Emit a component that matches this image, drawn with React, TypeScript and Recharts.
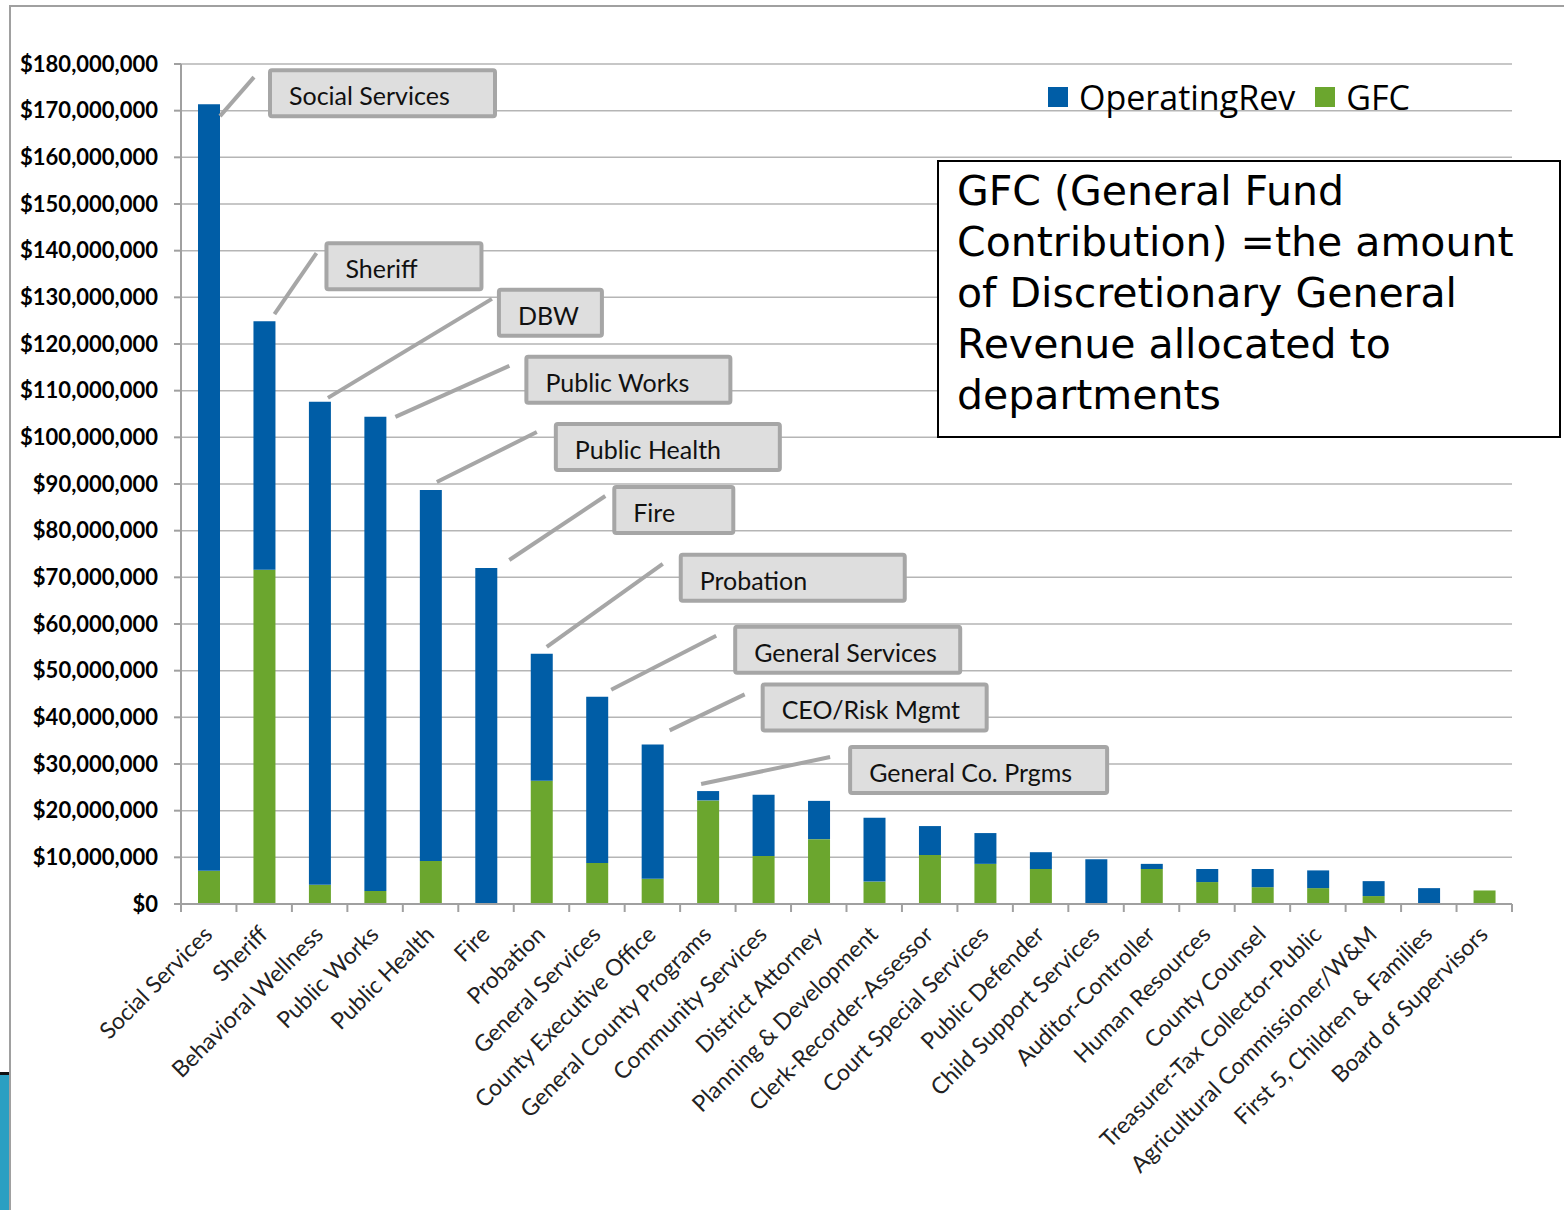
import { Bar, BarChart, CartesianGrid, LabelList, Legend, XAxis, YAxis } from "recharts";

const BLUE = "#005da6";
const GREEN = "#6ba62e";
const GRID = "#b5b5b5";
const AXIS = "#a0a0a0";
const CALLOUT_EDGE = "#a6a6a6";
const CALLOUT_FILL = "#dedede";
const FONT = "Lato, 'Open Sans', sans-serif";
const LEGEND_FONT = "'Open Sans', Lato, sans-serif";
const NOTE_FONT = "'DejaVu Sans', 'Open Sans', sans-serif";

// values in $ millions
const DEPARTMENTS = [
  "Social Services",
  "Sheriff",
  "Behavioral Wellness",
  "Public Works",
  "Public Health",
  "Fire",
  "Probation",
  "General Services",
  "County Executive Office",
  "General County Programs",
  "Community Services",
  "District Attorney",
  "Planning & Development",
  "Clerk-Recorder-Assessor",
  "Court Special Services",
  "Public Defender",
  "Child Support Services",
  "Auditor-Controller",
  "Human Resources",
  "County Counsel",
  "Treasurer-Tax Collector-Public",
  "Agricultural Commissioner/W&M",
  "First 5, Children & Families",
  "Board of Supervisors",
];
const GFC = [7.1, 71.6, 4.1, 2.8, 9.2, 0, 26.4, 8.8, 5.4, 22.2, 10.3, 13.9, 4.8, 10.5, 8.6, 7.5, 0, 7.5, 4.7, 3.6, 3.4, 1.7, 0, 2.9];
const OPERATING_REV = [164.3, 53.3, 103.5, 101.6, 79.5, 72.0, 27.2, 35.6, 28.8, 2.0, 13.1, 8.2, 13.7, 6.2, 6.6, 3.6, 9.6, 1.1, 2.8, 3.9, 3.8, 3.2, 3.4, 0];
const Y_TICKS = [0, 10, 20, 30, 40, 50, 60, 70, 80, 90, 100, 110, 120, 130, 140, 150, 160, 170, 180];
const CALLOUTS = [
  "Social Services",
  "Sheriff",
  "DBW",
  "Public Works",
  "Public Health",
  "Fire",
  "Probation",
  "General Services",
  "CEO/Risk Mgmt",
  "General Co. Prgms",
];
const NOTE_LINES = [
  "GFC (General Fund",
  "Contribution) =the amount",
  "of Discretionary General",
  "Revenue allocated to",
  "departments",
];

// leader line + box offsets, relative to the top-right corner of each bar
const CALLOUT_LAYOUT: Record<string, { line: number[]; box: number[] }> = {
  "Social Services": { line: [0, 12, 34, -27], box: [50, -34, 225] },
  Sheriff: { line: [-1, -7, 41, -68], box: [51, -78, 155] },
  DBW: { line: [-3, -4, 161, -103], box: [168, -112, 103] },
  "Public Works": { line: [9, 0, 123, -51], box: [140, -60, 204] },
  "Public Health": { line: [-5, -8, 95, -58], box: [114, -66, 224] },
  Fire: { line: [12, -8, 108, -72], box: [117, -81, 119] },
  Probation: { line: [-6, -7, 110, -90], box: [128, -99, 224] },
  "General Services": { line: [3, -7, 108, -61], box: [127, -70, 225] },
  "CEO/Risk Mgmt": { line: [6, -14, 81, -50], box: [99, -60, 224] },
  "General Co. Prgms": { line: [-18, -7, 111, -34], box: [131, -44, 257] },
};

const rows = DEPARTMENTS.map((name, i) => ({
  name,
  gfc: GFC[i],
  op: OPERATING_REV[i],
  callout: CALLOUTS[i] ?? "",
}));

const W = 1564;
const H = 1210;
const MARGIN = { top: 64, right: 52, bottom: 6, left: 10 };
const Y_AXIS_W = 171;
const BAND = (W - MARGIN.left - Y_AXIS_W - MARGIN.right) / DEPARTMENTS.length;

const money = (v: number) => "$" + (v * 1000000).toLocaleString("en-US");

function DeptTick(props: any) {
  const { x, y, payload, index } = props;
  const half = BAND / 2;
  return (
    <g>
      <line x1={x - half} y1={y} x2={x - half} y2={y + 8} stroke={AXIS} strokeWidth={2} />
      {index === DEPARTMENTS.length - 1 && (
        <line x1={x + half} y1={y} x2={x + half} y2={y + 8} stroke={AXIS} strokeWidth={2} />
      )}
      <text
        transform={`translate(${x + 5},${y + 32}) rotate(-45)`}
        textAnchor="end"
        fontSize={23}
        fontFamily={FONT}
        fill="#222"
      >
        {payload.value}
      </text>
    </g>
  );
}

function renderCallout(props: any) {
  const label = props.value as string;
  const pos = CALLOUT_LAYOUT[label];
  if (!label || !pos) return null;
  const rx = Number(props.x) + Number(props.width);
  const ty = Number(props.y);
  const [lx1, ly1, lx2, ly2] = pos.line;
  const [bx, by, bw] = pos.box;
  return (
    <g>
      <line x1={rx + lx1} y1={ty + ly1} x2={rx + lx2} y2={ty + ly2} stroke={CALLOUT_EDGE} strokeWidth={4} />
      <rect x={rx + bx} y={ty + by} width={bw} height={46} fill={CALLOUT_FILL} stroke={CALLOUT_EDGE} strokeWidth={4} rx={2} />
      <text x={rx + bx + 19} y={ty + by + 35} fontSize={25} fontFamily={FONT} fill="#111">
        {label}
      </text>
    </g>
  );
}

function LegendBox() {
  const sw = { width: 20, height: 20, display: "inline-block", marginRight: 11 };
  return (
    <div style={{ display: "flex", alignItems: "center", fontFamily: LEGEND_FONT, fontSize: 34, lineHeight: "34px", color: "#000", whiteSpace: "nowrap" }}>
      <span style={{ ...sw, background: BLUE }} />
      <span style={{ marginRight: 20 }}>OperatingRev</span>
      <span style={{ ...sw, background: GREEN }} />
      <span>GFC</span>
    </div>
  );
}

export default function App() {
  return (
    <div style={{ position: "absolute", top: 0, left: 0, width: W, height: H, background: "#fff", overflow: "hidden" }}>
      <BarChart width={W} height={H} data={rows} margin={MARGIN}>
        <CartesianGrid vertical={false} stroke={GRID} strokeWidth={1.5} />
        <XAxis
          dataKey="name"
          interval={0}
          height={300}
          tickSize={0}
          tickMargin={0}
          tickLine={false}
          axisLine={{ stroke: AXIS, strokeWidth: 2 }}
          tick={<DeptTick />}
        />
        <YAxis
          width={Y_AXIS_W}
          domain={[0, 180]}
          ticks={Y_TICKS}
          interval={0}
          tickFormatter={money}
          tickSize={7}
          tickMargin={16}
          tickLine={{ stroke: AXIS, strokeWidth: 2 }}
          axisLine={{ stroke: AXIS, strokeWidth: 2 }}
          tick={{ fontSize: 22, fontWeight: 700, fill: "#000", fontFamily: FONT }}
        />
        <Legend
          layout="horizontal"
          verticalAlign="middle"
          align="center"
          wrapperStyle={{ top: 80, left: 1048, width: 420 }}
          content={<LegendBox />}
        />
        <Bar dataKey="gfc" name="GFC" stackId="a" fill={GREEN} barSize={22} isAnimationActive={false} />
        <Bar dataKey="op" name="OperatingRev" stackId="a" fill={BLUE} barSize={22} isAnimationActive={false}>
          <LabelList dataKey="callout" content={renderCallout} />
        </Bar>
      </BarChart>

      <div
        style={{
          position: "absolute",
          left: 937,
          top: 160,
          width: 624,
          height: 278,
          boxSizing: "border-box",
          border: "2px solid #000",
          background: "#fff",
          padding: "4px 0 0 18px",
          fontFamily: NOTE_FONT,
          fontSize: 41,
          lineHeight: "51px",
          color: "#000",
          whiteSpace: "nowrap",
        }}
      >
        {NOTE_LINES.map((t) => (
          <div key={t}>{t}</div>
        ))}
      </div>

      <div style={{ position: "absolute", left: 9, top: 5, right: 0, height: 2, background: AXIS }} />
      <div style={{ position: "absolute", left: 9, top: 5, width: 2, bottom: 0, background: AXIS }} />
      <div style={{ position: "absolute", left: 0, top: 1072, width: 9, bottom: 0, background: "#2b9fc2", borderTop: "3px solid #111" }} />
    </div>
  );
}
